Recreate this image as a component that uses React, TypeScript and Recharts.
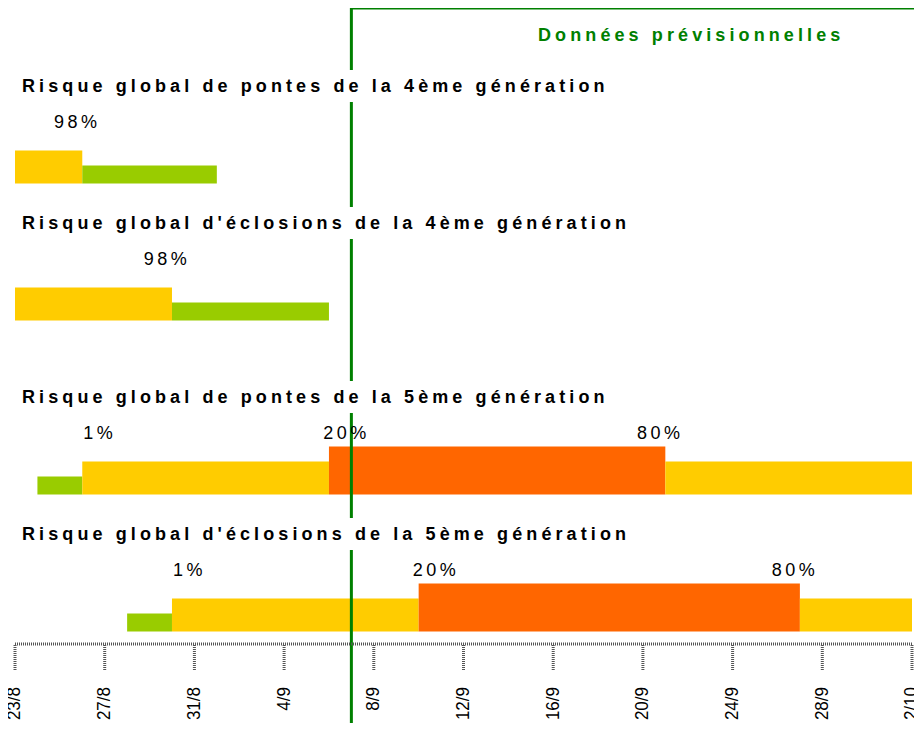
import React from "react";
import { Bar, ComposedChart, ReferenceDot, ReferenceLine, XAxis, YAxis } from "recharts";

// libellés de l'axe des dates
const datesAxe = ["23/8", "27/8", "31/8", "4/9", "8/9", "12/9", "16/9", "20/9", "24/9", "28/9", "2/10"];

const titres = [
  "Risque global de pontes de la 4ème génération",
  "Risque global d'éclosions de la 4ème génération",
  "Risque global de pontes de la 5ème génération",
  "Risque global d'éclosions de la 5ème génération",
];

// périodes de risque (faible = vert, moyen = jaune, fort = orange)
const pontesG4 = [
  { niveau: "moyen", du: "23/8", au: "26/8" },
  { niveau: "faible", du: "26/8", au: "1/9" },
];
const eclosionsG4 = [
  { niveau: "moyen", du: "23/8", au: "30/8" },
  { niveau: "faible", du: "30/8", au: "6/9" },
];
const pontesG5 = [
  { niveau: "faible", du: "24/8", au: "26/8" },
  { niveau: "moyen", du: "26/8", au: "6/9" },
  { niveau: "fort", du: "6/9", au: "21/9" },
  { niveau: "moyen", du: "21/9", au: "2/10" },
];
const eclosionsG5 = [
  { niveau: "faible", du: "28/8", au: "30/8" },
  { niveau: "moyen", du: "30/8", au: "10/9" },
  { niveau: "fort", du: "10/9", au: "27/9" },
  { niveau: "moyen", du: "27/9", au: "2/10" },
];

// pourcentages cumulés (position en jours depuis le 23/8)
const seuilsPontesG4 = [{ texte: "98%", jour: 2.7 }];
const seuilsEclosionsG4 = [{ texte: "98%", jour: 6.7 }];
const seuilsPontesG5 = [
  { texte: "1%", jour: 3.7 },
  { texte: "20%", jour: 14.7 },
  { texte: "80%", jour: 28.7 },
];
const seuilsEclosionsG5 = [
  { texte: "1%", jour: 7.7 },
  { texte: "20%", jour: 18.7 },
  { texte: "80%", jour: 34.7 },
];

const dateDuJour = "7/9";

const lignes = [pontesG4, eclosionsG4, pontesG5, eclosionsG5];
const seuils = [seuilsPontesG4, seuilsEclosionsG4, seuilsPontesG5, seuilsEclosionsG5];

// mise en page
const W = 922;
const H = 731;
const basAxe = 644;
const basesLignes = [183, 320, 494, 631];
const hauteurBarre = 48;
const hauteurs: Record<string, number> = { faible: 18, moyen: 33, fort: 48 };
const couleurs: Record<string, string> = { faible: "#99CC00", moyen: "#FFCC00", fort: "#FF6600" };
const police = "'Liberation Sans', Arial, sans-serif";

function jour(date: string) {
  const [d, m] = date.split("/").map(Number);
  if (m === 8) return d - 23;
  if (m === 9) return d + 8;
  return d + 38;
}

const segments = lignes.flatMap((ligne, i) =>
  ligne.map((s) => ({
    rang: basesLignes[i] - hauteurBarre / 2,
    plage: [jour(s.du), jour(s.au)],
    niveau: s.niveau,
  }))
);

function BarreRisque(props: any) {
  const { x, y, width, height, payload } = props;
  const h = hauteurs[payload.niveau];
  return <rect x={x} y={y + height - h} width={width} height={h} fill={couleurs[payload.niveau]} />;
}

function TickDate(props: any) {
  const { x, y, payload } = props;
  const libelle = datesAxe.find((d) => jour(d) === payload.value);
  return (
    <text
      x={0}
      y={0}
      transform={`translate(${x - 1}, ${y}) rotate(-90) scale(1, 1.08)`}
      textAnchor="end"
      dy="0.35em"
      fontSize={17}
      fontFamily={police}
      fill="#000"
    >
      {libelle}
    </text>
  );
}

const axeStyle = { stroke: "#555", strokeWidth: 3, strokeDasharray: "1 1" };

export default function App() {
  const xJour = jour(dateDuJour);
  return (
    <div style={{ position: "relative", width: W, height: H, margin: -8, background: "#fff" }}>
      <ComposedChart
        width={W}
        height={H}
        data={segments}
        layout="vertical"
        margin={{ top: 0, right: 10, bottom: 0, left: 15 }}
      >
        <XAxis
          type="number"
          domain={[0, 40]}
          ticks={datesAxe.map(jour)}
          interval={0}
          allowDataOverflow
          height={H - basAxe}
          tickSize={26}
          tickMargin={17}
          axisLine={axeStyle}
          tickLine={axeStyle}
          tick={<TickDate />}
        />
        <YAxis type="number" dataKey="rang" domain={[0, basAxe]} allowDataOverflow hide />
        <Bar dataKey="plage" barSize={hauteurBarre} shape={BarreRisque} isAnimationActive={false} />
        {seuils.flatMap((liste, i) =>
          liste.map((s) => (
            <ReferenceDot
              key={`${i}-${s.texte}`}
              x={s.jour}
              y={basesLignes[i] - 61}
              r={1}
              ifOverflow="visible"
              shape={(p: any) => (
                <text
                  x={p.cx}
                  y={p.cy}
                  dx={1.75}
                  dy="0.36em"
                  textAnchor="middle"
                  fontSize={18}
                  letterSpacing={3.5}
                  fontFamily={police}
                  fill="#000"
                >
                  {s.texte}
                </text>
              )}
            />
          ))
        )}
        <ReferenceLine
          segment={[{ x: xJour, y: 7 }, { x: xJour, y: H }]}
          ifOverflow="visible"
          stroke="#008000"
          strokeWidth={3}
        />
        <ReferenceLine
          segment={[{ x: xJour, y: 8 }, { x: 41, y: 8 }]}
          ifOverflow="visible"
          stroke="#008000"
          strokeWidth={3}
        />
        <ReferenceLine
          segment={[{ x: xJour, y: H - 1.5 }, { x: 41, y: H - 1.5 }]}
          ifOverflow="visible"
          stroke="#4CAF50"
          strokeWidth={2}
        />
      </ComposedChart>
      {titres.map((t, i) => (
        <div
          key={t}
          style={{
            position: "absolute",
            left: 22,
            top: basesLignes[i] - 113,
            height: 32,
            lineHeight: "32px",
            paddingRight: 4,
            background: "#fff",
            whiteSpace: "nowrap",
            fontFamily: police,
            fontWeight: "bold",
            fontSize: 18,
            letterSpacing: 4.1,
            color: "#000",
          }}
        >
          {t}
        </div>
      ))}
      <div
        style={{
          position: "absolute",
          left: 538,
          top: 19,
          lineHeight: "32px",
          whiteSpace: "nowrap",
          fontFamily: police,
          fontWeight: "bold",
          fontSize: 18,
          letterSpacing: 4.1,
          color: "#008000",
        }}
      >
        Données prévisionnelles
      </div>
    </div>
  );
}
